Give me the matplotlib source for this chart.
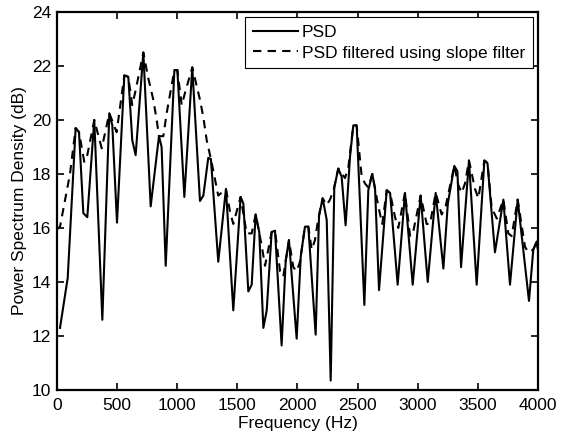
import matplotlib
matplotlib.use("Agg")
import matplotlib.pyplot as plt

plt.rcParams['font.family'] = ['Liberation Sans', 'DejaVu Sans']

# PSD (solid) traced vertices
psd_freq = [25, 89, 155, 183, 219, 252, 310, 377, 435, 460, 499, 560, 593, 626, 654,
            718, 779, 848, 870, 904, 976, 1001, 1059, 1125, 1189, 1217, 1258, 1280, 1341,
            1405, 1466, 1527, 1550, 1591, 1619, 1652, 1682, 1716, 1744, 1785, 1813, 1868,
            1902, 1929, 1993, 2027, 2062, 2090, 2151, 2179, 2209, 2243, 2276, 2306, 2339,
            2367, 2400, 2437, 2464, 2492, 2556, 2589, 2622, 2645, 2678, 2742, 2770, 2833,
            2894, 2958, 3024, 3083, 3149, 3213, 3250, 3304, 3330, 3360, 3426, 3490, 3554,
            3580, 3642, 3712, 3767, 3831, 3925, 3961, 3989, 4000]
psd_db = [12.3, 14.15, 19.7, 19.55, 16.55, 16.4, 20.0, 12.6, 20.25, 19.8, 16.2, 21.65, 21.6,
          19.25, 18.7, 22.5, 16.8, 19.4, 19.0, 14.6, 21.85, 21.85, 17.15, 21.95, 17.0, 17.2,
          18.6, 18.55, 14.75, 17.45, 12.95, 17.15, 16.9, 13.65, 13.9, 16.5, 15.85, 12.3, 12.95,
          15.85, 15.9, 11.65, 14.8, 15.55, 11.9, 14.95, 16.05, 16.05, 12.05, 16.45, 17.1,
          16.3, 10.35, 17.5, 18.2, 17.9, 16.1, 18.65, 19.8, 19.8, 13.15, 17.4, 18.0, 17.45,
          13.7, 17.4, 17.3, 13.9, 17.3, 13.9, 17.2, 14.0, 17.3, 14.5, 16.9, 18.3, 18.1,
          14.55, 18.5, 13.9, 18.5, 18.4, 15.1, 17.05, 13.9, 17.05, 13.3, 15.2, 15.5, 15.2]

# PSD filtered using slope filter (dashed) traced vertices
flt_freq = [0, 25, 108, 155, 183, 227, 252, 310, 372, 435, 496, 560, 593, 626, 654, 718,
            759, 801, 829, 848, 884, 912, 976, 1001, 1037, 1064, 1125, 1189, 1217, 1245,
            1280, 1314, 1341, 1405, 1439, 1466, 1527, 1577, 1619, 1652, 1702, 1730, 1757,
            1785, 1813, 1855, 1882, 1929, 1965, 1993, 2021, 2062, 2090, 2118, 2145, 2173,
            2209, 2243, 2270, 2300, 2339, 2395, 2423, 2464, 2492, 2534, 2561, 2589, 2622,
            2672, 2705, 2742, 2770, 2811, 2838, 2894, 2936, 2964, 3024, 3074, 3102, 3149,
            3199, 3232, 3304, 3337, 3365, 3393, 3426, 3476, 3504, 3554, 3580, 3615, 3657,
            3712, 3753, 3781, 3831, 3892, 3920, 3961, 3989, 4000]
flt_db = [15.95, 16.05, 18.0, 19.7, 19.55, 18.45, 18.7, 20.0, 18.95, 20.25, 19.55, 21.65,
          21.6, 20.55, 21.1, 22.5, 21.55, 20.75, 20.0, 19.4, 19.4, 20.25, 21.85, 21.85,
          20.55, 21.0, 21.95, 20.75, 20.1, 19.25, 18.55, 17.8, 17.2, 17.45, 16.6, 16.15,
          17.15, 15.8, 15.8, 16.5, 15.35, 14.6, 15.2, 15.85, 15.9, 14.4, 14.2, 15.55, 14.55,
          14.4, 14.75, 16.05, 16.05, 15.2, 15.55, 16.35, 17.1, 16.85, 17.05, 17.4, 18.2,
          17.85, 18.25, 19.8, 19.8, 17.9, 17.65, 17.5, 18.0, 16.8, 16.15, 17.4, 17.3, 16.4,
          16.0, 17.3, 15.7, 15.9, 17.2, 16.15, 16.15, 17.3, 16.5, 16.8, 18.3, 17.6, 17.3,
          17.65, 18.5, 17.45, 17.1, 18.5, 18.4, 16.75, 16.35, 17.05, 15.8, 15.7, 17.05,
          15.3, 15.1, 15.2, 15.5, 15.2]

xticks = [0, 500, 1000, 1500, 2000, 2500, 3000, 3500, 4000]
yticks = [10, 12, 14, 16, 18, 20, 22, 24]

fig = plt.figure(figsize=(5.61, 4.38), dpi=100)
ax = fig.add_axes([0.1016, 0.1096, 0.8574, 0.863])

ax.plot(psd_freq, psd_db, color='black', linewidth=1.5, linestyle='-', label='PSD')
ax.plot(flt_freq, flt_db, color='black', linewidth=1.5, linestyle=(0, (4, 3)),
        label='PSD filtered using slope filter')

ax.set_xlim(0, 4000)
ax.set_ylim(10, 24)
ax.set_xticks(xticks)
ax.set_yticks(yticks)
ax.tick_params(direction='in', top=True, right=True, length=5, width=1.2,
               labelsize=12.5)
ax.tick_params(axis='x', pad=6)
ax.tick_params(axis='y', pad=4)
for s in ax.spines.values():
    s.set_linewidth(1.6)

ax.set_xlabel('Frequency (Hz)', fontsize=12.5, labelpad=2)
ax.set_ylabel('Power Spectrum Density (dB)', fontsize=12.5, labelpad=4)

leg = ax.legend(loc='upper right', fontsize=12.5, handlelength=2.6, fancybox=False,
                edgecolor='black', framealpha=1, borderaxespad=0.3,
                borderpad=0.45, labelspacing=0.3, handletextpad=0.2)
leg.get_frame().set_linewidth(0.8)

fig.savefig('out.png', dpi=100)
